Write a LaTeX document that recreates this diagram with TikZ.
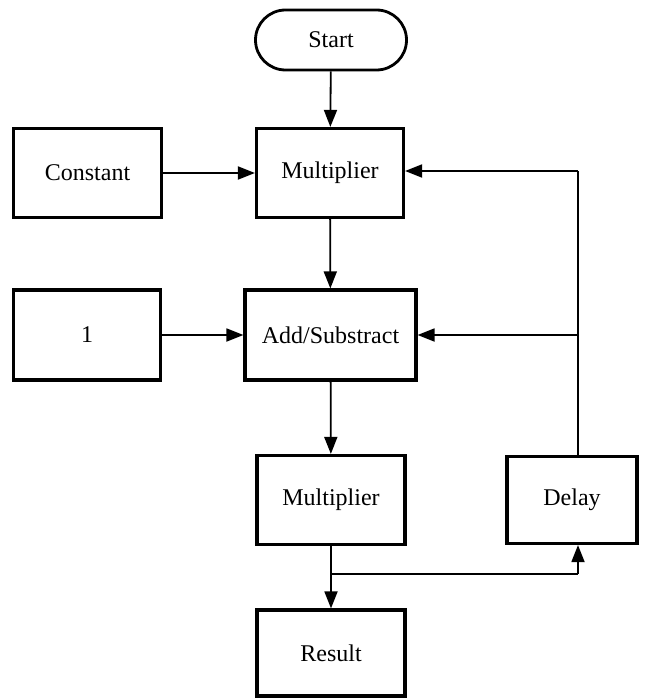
\documentclass[tikz,border=0pt]{standalone}
\usepackage{fontspec}
\setmainfont{Liberation Serif}
\usetikzlibrary{arrows.meta}
\begin{document}
\begin{tikzpicture}[x=1pt,y=-1pt,
  blk/.style={draw, line width=3.2pt, minimum width=147pt, minimum height=89pt, inner sep=0pt, font=\fontsize{24}{26}\selectfont},
  conn/.style={line width=1.8pt, -{Triangle[length=17pt,width=13pt]}},
  wire/.style={line width=1.8pt}]
\useasboundingbox (0,0) rectangle (649,698);
\node[draw, line width=2.8pt, rounded corners=30pt, minimum width=151pt, minimum height=60pt, inner sep=0pt, font=\fontsize{24}{26}\selectfont] (start) at (331,40) {Start};
\node[blk] (mul1) at (330,173) {Multiplier};
\node[blk, minimum width=148pt] (const) at (87.5,173) {Constant};
\node[blk, minimum width=147pt, minimum height=90pt] (one) at (87,335) {1};
\node[blk, minimum width=171pt, minimum height=90pt] (add) at (330.5,335) {Add/Substract};
\node[blk, minimum width=148pt] (mul2) at (331,500) {Multiplier};
\node[blk, minimum width=130pt, minimum height=87pt] (delay) at (572,500) {Delay};
\node[blk, minimum width=148pt, minimum height=86pt] (res) at (331,653) {Result};
\coordinate (fbtop) at (578,171);
\coordinate (fbmid) at (578,335);
\coordinate (br) at (331,574);
\coordinate (brr) at (578,574);
\draw[conn] (start) -- (mul1);
\draw[conn] (const) -- (mul1);
\draw[conn] (one) -- (add);
\draw[conn] (mul1) -- (add);
\draw[conn] (add) -- (mul2);
\draw[conn] (mul2) -- (res);
\draw[wire] (delay.north -| fbtop) -- (fbtop);
\draw[conn] (fbtop) -- (fbtop -| mul1.east);
\draw[conn] (fbmid) -- (add.east);
\draw[wire] (br) -- (brr);
\draw[conn] (brr) -- (delay.south -| brr);
\end{tikzpicture}
\end{document}
